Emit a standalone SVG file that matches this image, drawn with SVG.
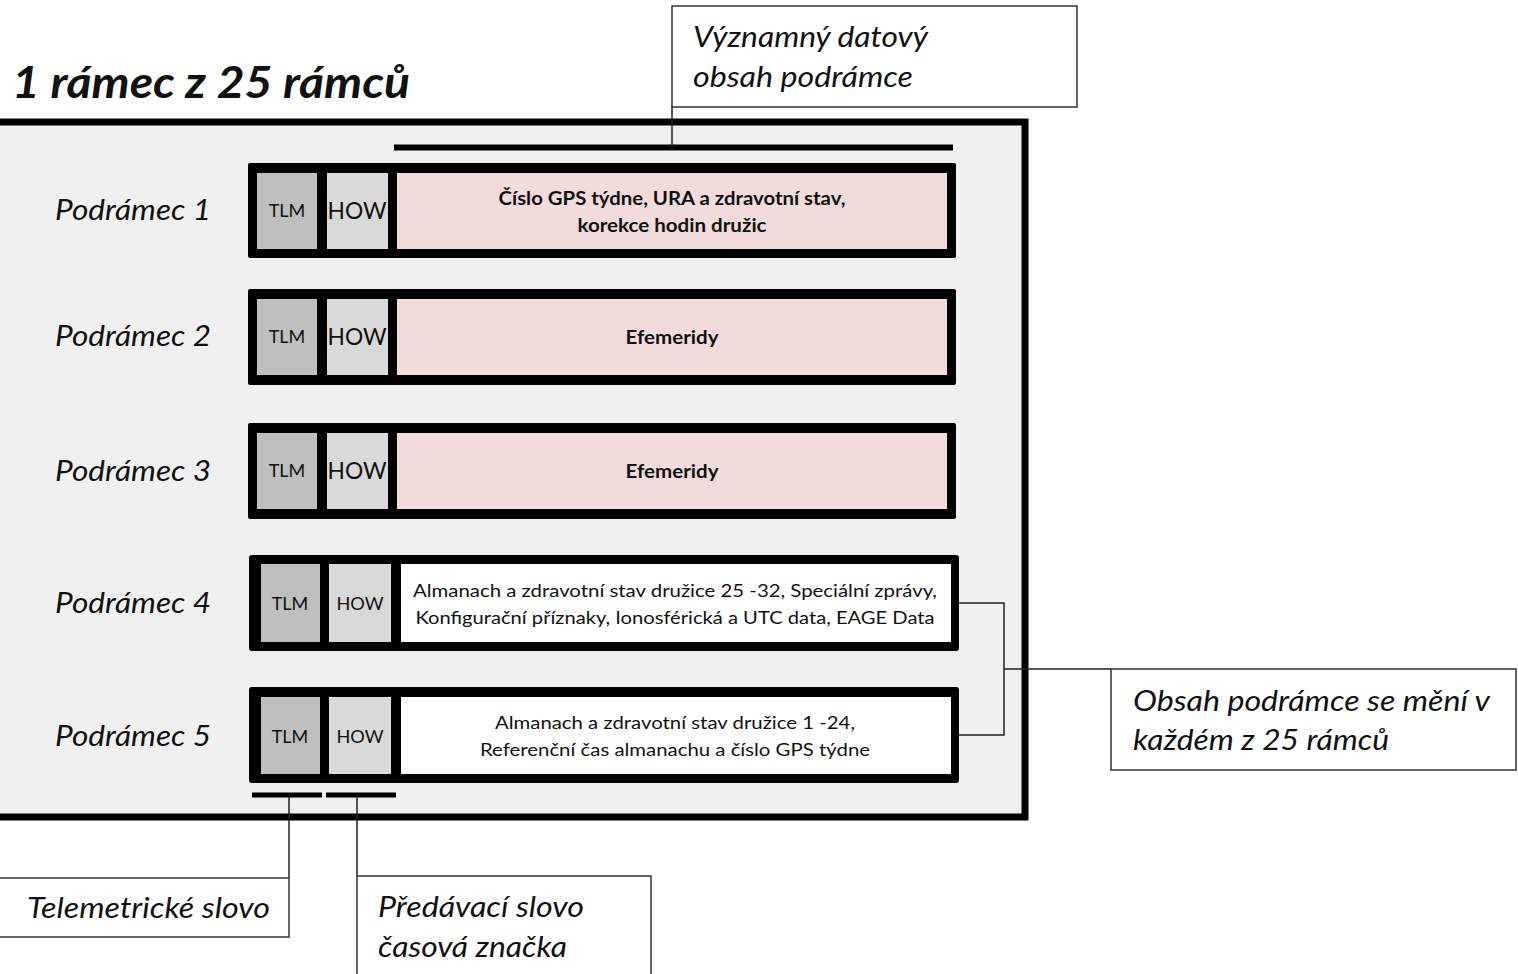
<svg xmlns="http://www.w3.org/2000/svg" width="1518" height="974" viewBox="0 0 1518 974">
<style>
.lab{font-family:Lato,"Liberation Sans",sans-serif;font-style:italic;font-size:28px;fill:#111}
.cell{font-family:Lato,"Liberation Sans",sans-serif;fill:#111;text-anchor:middle}
.bold{font-weight:bold}
.thin{stroke:#222;stroke-width:1.5;fill:none}
.note{fill:#fff;stroke:#333;stroke-width:1.5}
.frame{fill:#000}
.tlm{fill:#bfbfbf}
.how{fill:#d9d9d9}
.pink{fill:#f2dcdb}
.white{fill:#fff}
</style>
<rect width="1518" height="974" fill="#fff"/>
<g id="frame">
<rect x="-10" y="122" width="1035" height="695" fill="#f0f0f0" stroke="#000" stroke-width="7"/>
<text x="12" y="98" font-family="Lato,'Liberation Sans',sans-serif" font-style="italic" font-weight="bold" font-size="44" fill="#111" textLength="398" lengthAdjust="spacingAndGlyphs">1 rámec z 25 rámců</text>
</g>
<g id="connectors">
<line x1="394" y1="147.5" x2="953" y2="147.5" stroke="#000" stroke-width="6"/>
<polyline class="thin" points="672,147 672,106"/>
<line x1="252" y1="795" x2="322" y2="795" stroke="#000" stroke-width="5"/>
<line x1="326" y1="795" x2="396" y2="795" stroke="#000" stroke-width="5"/>
<polyline class="thin" points="289,795 289,878"/>
<polyline class="thin" points="357,795 357,876"/>
<polyline class="thin" points="959,603 1004,603 1004,735 959,735"/>
<polyline class="thin" points="1004,669 1111,669"/>
</g>
<g id="sub1">
<text class="lab" x="55" y="220" textLength="156" lengthAdjust="spacingAndGlyphs">Podrámec 1</text>
<rect class="frame" x="248" y="163" width="708" height="95" rx="2"/>
<rect class="tlm" x="257" y="173" width="60" height="76"/>
<rect class="how" x="327" y="173" width="61" height="76"/>
<rect class="pink" x="397" y="173" width="550" height="76"/>
<text class="cell" x="287" y="217" font-size="18">TLM</text>
<text class="cell" x="357" y="219" font-size="24" textLength="59" lengthAdjust="spacingAndGlyphs">HOW</text>
<text class="cell bold" x="672" y="205" font-size="18" textLength="347" lengthAdjust="spacingAndGlyphs">Číslo GPS týdne, URA a zdravotní stav,</text>
<text class="cell bold" x="672" y="232" font-size="18" textLength="189" lengthAdjust="spacingAndGlyphs">korekce hodin družic</text>
</g>
<g id="sub2">
<text class="lab" x="55" y="346" textLength="156" lengthAdjust="spacingAndGlyphs">Podrámec 2</text>
<rect class="frame" x="248" y="289" width="708" height="96" rx="2"/>
<rect class="tlm" x="257" y="299" width="60" height="76"/>
<rect class="how" x="327" y="299" width="61" height="76"/>
<rect class="pink" x="397" y="299" width="550" height="76"/>
<text class="cell" x="287" y="343" font-size="18">TLM</text>
<text class="cell" x="357" y="345" font-size="24" textLength="59" lengthAdjust="spacingAndGlyphs">HOW</text>
<text class="cell bold" x="672" y="344" font-size="18" textLength="93" lengthAdjust="spacingAndGlyphs">Efemeridy</text>
</g>
<g id="sub3">
<text class="lab" x="55" y="481" textLength="156" lengthAdjust="spacingAndGlyphs">Podrámec 3</text>
<rect class="frame" x="248" y="423" width="708" height="96" rx="2"/>
<rect class="tlm" x="257" y="433" width="60" height="76"/>
<rect class="how" x="327" y="433" width="61" height="76"/>
<rect class="pink" x="397" y="433" width="550" height="76"/>
<text class="cell" x="287" y="477" font-size="18">TLM</text>
<text class="cell" x="357" y="479" font-size="24" textLength="59" lengthAdjust="spacingAndGlyphs">HOW</text>
<text class="cell bold" x="672" y="478" font-size="18" textLength="93" lengthAdjust="spacingAndGlyphs">Efemeridy</text>
</g>
<g id="sub4">
<text class="lab" x="55" y="613" textLength="156" lengthAdjust="spacingAndGlyphs">Podrámec 4</text>
<rect class="frame" x="249" y="555" width="710" height="96" rx="3"/>
<rect class="tlm" x="261" y="564" width="59" height="78"/>
<rect class="how" x="329" y="564" width="62" height="78"/>
<rect class="white" x="401" y="564" width="550" height="78"/>
<text class="cell" x="290" y="610" font-size="18">TLM</text>
<text class="cell" x="360" y="610" font-size="18" textLength="47" lengthAdjust="spacingAndGlyphs">HOW</text>
<text class="cell" x="675" y="597" font-size="17" textLength="524" lengthAdjust="spacingAndGlyphs">Almanach a zdravotní stav družice 25 -32, Speciální zprávy,</text>
<text class="cell" x="675" y="624" font-size="17" textLength="519" lengthAdjust="spacingAndGlyphs">Konfigurační příznaky, Ionosférická a UTC data, EAGE Data</text>
</g>
<g id="sub5">
<text class="lab" x="55" y="746" textLength="156" lengthAdjust="spacingAndGlyphs">Podrámec 5</text>
<rect class="frame" x="249" y="687" width="710" height="96" rx="3"/>
<rect class="tlm" x="261" y="697" width="59" height="77"/>
<rect class="how" x="329" y="697" width="62" height="77"/>
<rect class="white" x="401" y="697" width="550" height="77"/>
<text class="cell" x="290" y="743" font-size="18">TLM</text>
<text class="cell" x="360" y="743" font-size="18" textLength="47" lengthAdjust="spacingAndGlyphs">HOW</text>
<text class="cell" x="675" y="729" font-size="17" textLength="360" lengthAdjust="spacingAndGlyphs">Almanach a zdravotní stav družice 1 -24,</text>
<text class="cell" x="675" y="756" font-size="17" textLength="390" lengthAdjust="spacingAndGlyphs">Referenční čas almanachu a číslo GPS týdne</text>
</g>
<g id="note-vyznamny">
<rect class="note" x="672" y="6" width="405" height="101"/>
<text class="lab" x="693" y="47" textLength="235" lengthAdjust="spacingAndGlyphs">Významný datový</text>
<text class="lab" x="693" y="87" textLength="220" lengthAdjust="spacingAndGlyphs">obsah podrámce</text>
</g>
<g id="note-obsah">
<rect class="note" x="1111" y="669" width="405" height="101"/>
<text class="lab" x="1133" y="711" textLength="357" lengthAdjust="spacingAndGlyphs">Obsah podrámce se mění v</text>
<text class="lab" x="1133" y="750" textLength="256" lengthAdjust="spacingAndGlyphs">každém z 25 rámců</text>
</g>
<g id="note-telemetricke">
<rect class="note" x="-10" y="878" width="299" height="59"/>
<text class="lab" x="27" y="918" textLength="243" lengthAdjust="spacingAndGlyphs">Telemetrické slovo</text>
</g>
<g id="note-predavaci">
<rect class="note" x="357" y="876" width="294" height="110"/>
<text class="lab" x="378" y="917" textLength="206" lengthAdjust="spacingAndGlyphs">Předávací slovo</text>
<text class="lab" x="378" y="957" textLength="189" lengthAdjust="spacingAndGlyphs">časová značka</text>
</g>
</svg>
